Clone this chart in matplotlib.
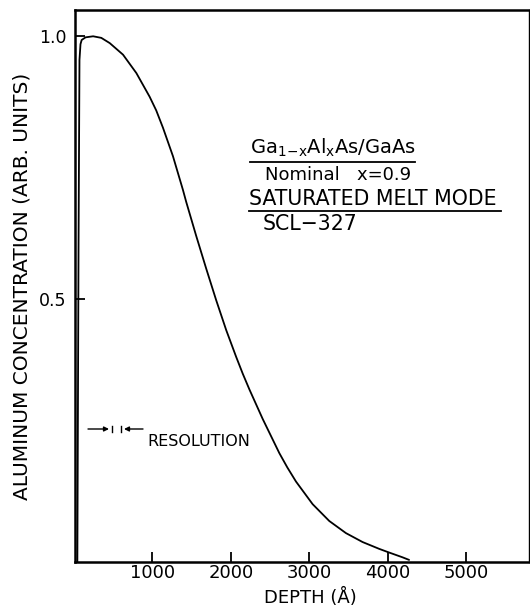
import matplotlib
matplotlib.use("Agg")
import matplotlib.pyplot as plt

# ---- data ----
depth = [45, 60, 72, 85, 100, 150, 246, 350, 458, 627, 797, 966, 1050, 1136,
         1263, 1390, 1432, 1560, 1687, 1814, 1942, 2069, 2153, 2238, 2407,
         2619, 2720, 2831, 3043, 3255, 3467, 3679, 3891, 4018, 4187, 4272]
conc = [0.0, 0.60, 0.955, 0.985, 0.993, 0.998, 1.0, 0.997, 0.987, 0.965,
        0.930, 0.885, 0.859, 0.826, 0.772, 0.708, 0.685, 0.620, 0.558,
        0.498, 0.441, 0.390, 0.358, 0.328, 0.272, 0.207, 0.180, 0.153,
        0.110, 0.078, 0.055, 0.038, 0.025, 0.018, 0.009, 0.004]

xticks = [1000, 2000, 3000, 4000, 5000]
xticklabels = ["1000", "2000", "3000", "4000", "5000"]
yticks = [0.5, 1.0]
yticklabels = ["0.5", "1.0"]

plt.rcParams['font.family'] = ['DejaVu Sans']

fig = plt.figure(figsize=(5.30, 6.10), dpi=100)
ax = fig.add_axes([75/530, 1 - 562/610, 454/530, 552/610])

ax.plot(depth, conc, color='black', lw=1.3, solid_capstyle='round',
        solid_joinstyle='round')

ax.set_xlim(15, 5800)
ax.set_ylim(0, 1.05)
ax.set_xticks(xticks)
ax.set_xticklabels(xticklabels)
ax.set_yticks(yticks)
ax.set_yticklabels(yticklabels)
ax.tick_params(direction='in', length=7, width=1.3, labelsize=13, pad=1.5)
ax.tick_params(axis='y', pad=6, labelsize=12.5)

for s in ax.spines.values():
    s.set_linewidth(1.8)
ax.spines['right'].set_linewidth(1.0)

ax.set_xlabel("DEPTH (Å)", fontsize=13)
ax.xaxis.set_label_coords(0.518, -0.047)
ax.set_ylabel("ALUMINUM CONCENTRATION (ARB. UNITS)", fontsize=14.5)
ax.yaxis.set_label_coords(-0.095, 0.5)

# annotation block
T = ax.transAxes
ax.text(0.385, 0.75, r"Ga$_\mathregular{1\!-\!x}$Al$_\mathregular{x}$As/GaAs",
        transform=T, fontsize=14, va='center', ha='left')
ax.plot([0.385, 0.749], [0.7246, 0.7246], transform=T, color='black', lw=1.3)
ax.text(0.4185, 0.701, "Nominal   x=0.9", transform=T, fontsize=13,
        va='center', ha='left')
ax.text(0.383, 0.6576, "SATURATED MELT MODE", transform=T, fontsize=14.8,
        va='center', ha='left')
ax.plot([0.383, 0.938], [0.636, 0.636], transform=T, color='black', lw=1.3)
ax.text(0.414, 0.612, "SCL\u2212327", transform=T, fontsize=14.8,
        va='center', ha='left')

# resolution marker
ya = (562 - 429) / 552
def fx(px):
    return (px - 75) / 454
ax.annotate("", xy=(fx(109), ya), xytext=(fx(88), ya), xycoords=T,
            textcoords=T, arrowprops=dict(arrowstyle='-|>', color='black',
                                          lw=1.0, mutation_scale=7,
                                          shrinkA=0, shrinkB=0))
ax.annotate("", xy=(fx(124), ya), xytext=(fx(143), ya), xycoords=T,
            textcoords=T, arrowprops=dict(arrowstyle='-|>', color='black',
                                          lw=1.0, mutation_scale=7,
                                          shrinkA=0, shrinkB=0))
for px in (112, 121):
    ax.plot([fx(px), fx(px)], [ya - 0.006, ya + 0.006], transform=T,
            color='black', lw=1.0)
ax.text(fx(147), (562 - 441) / 552, "RESOLUTION", transform=T, fontsize=11.5,
        va='center', ha='left')

fig.savefig("out.png", dpi=100)
